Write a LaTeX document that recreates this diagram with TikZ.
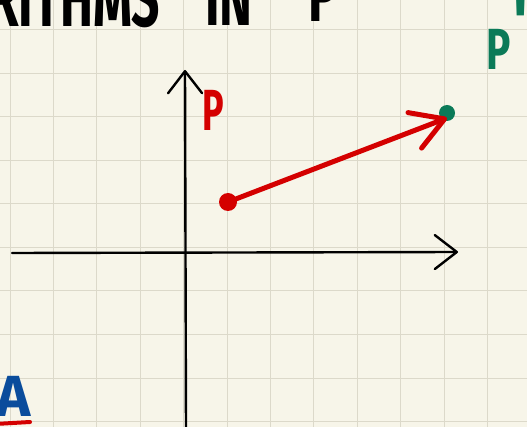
\documentclass[tikz,border=0pt]{standalone}
\usepackage{fontspec}
\setmainfont{Fira Sans}
\usepackage{graphicx}
\usetikzlibrary{arrows.meta}
\definecolor{PaperCream}{HTML}{F7F5E9}
\definecolor{GridSoft}{HTML}{DCD9CA}
\definecolor{InkRed}{HTML}{D40000}
\definecolor{InkGreen}{HTML}{0B7A58}
\definecolor{InkBlue}{HTML}{0A4C9C}
\newcommand{\squeeze}[1]{\scalebox{0.62}[1]{#1}}

\begin{document}
\begin{tikzpicture}[x=1pt,y=-1pt,>=Latex,
    handtext/.style={inner sep=0pt, font=\fontsize{80}{80}\selectfont\bfseries},
    labeltext/.style={inner sep=0pt, font=\fontsize{58}{58}\selectfont\bfseries},
    axis/.style={black, line width=2.4pt, line cap=round,
      -{Straight Barb[length=22pt,width=34pt,round]}},
    dot/.style={circle, inner sep=0pt}]
  \useasboundingbox (0,0) rectangle (527,427);
  \clip (0,0) rectangle (527,427);
  \fill[PaperCream] (0,0) rectangle (527,427);
  % squared paper
  \foreach \k in {0,...,11}
    \draw[GridSoft, line width=1pt] ({10+43.4*\k},0) -- ++(0,427);
  \foreach \k in {0,...,9}
    \draw[GridSoft, line width=1pt] (0,{30+43.5*\k}) -- ++(527,0);

  % heading, cut off by the page edge
  \node[handtext, anchor=south east] (headA) at (160,28) {\squeeze{RITHMS}};
  \node[handtext, anchor=south west] (headB) at (205,26) {\squeeze{IN}};
  \node[handtext, anchor=south west] (headC) at (308,22) {\squeeze{P}};

  % axes
  \coordinate (xstart) at (12,253);
  \coordinate (xend) at (458,252);
  \coordinate (ybottom) at (186,432);
  \coordinate (ytop) at (185,70);
  \draw[axis] (xstart) -- (xend);
  \draw[axis] (ybottom) -- (ytop);

  % points
  \node[dot, fill=InkRed, minimum size=18pt] (ptP) at (228,202) {};
  \node[dot, fill=InkGreen, minimum size=16pt] (ptQ) at (447,113) {};
  \node[labeltext, text=InkRed, anchor=south west] (labP) at (202,131) {\squeeze{P}};
  \node[labeltext, text=InkGreen, anchor=south west] (labQ) at (486,74)
    {\scalebox{0.7}[1]{P}\hspace{2pt}\raisebox{-4pt}{\scalebox{1.2}[2.4]{\textquotesingle}}};
  \draw[InkRed, line width=5pt, line cap=round,
    -{Straight Barb[length=32pt,width=38pt,round]}]
    (ptP.center) -- ([yshift=-5pt]ptQ.center);

  % corner note
  \node[labeltext, text=InkBlue, anchor=south east] (labA) at (31,417) {A};
  \draw[InkRed, line width=4pt, line cap=round] (-5,424) -- (30,422);
\end{tikzpicture}
\end{document}
